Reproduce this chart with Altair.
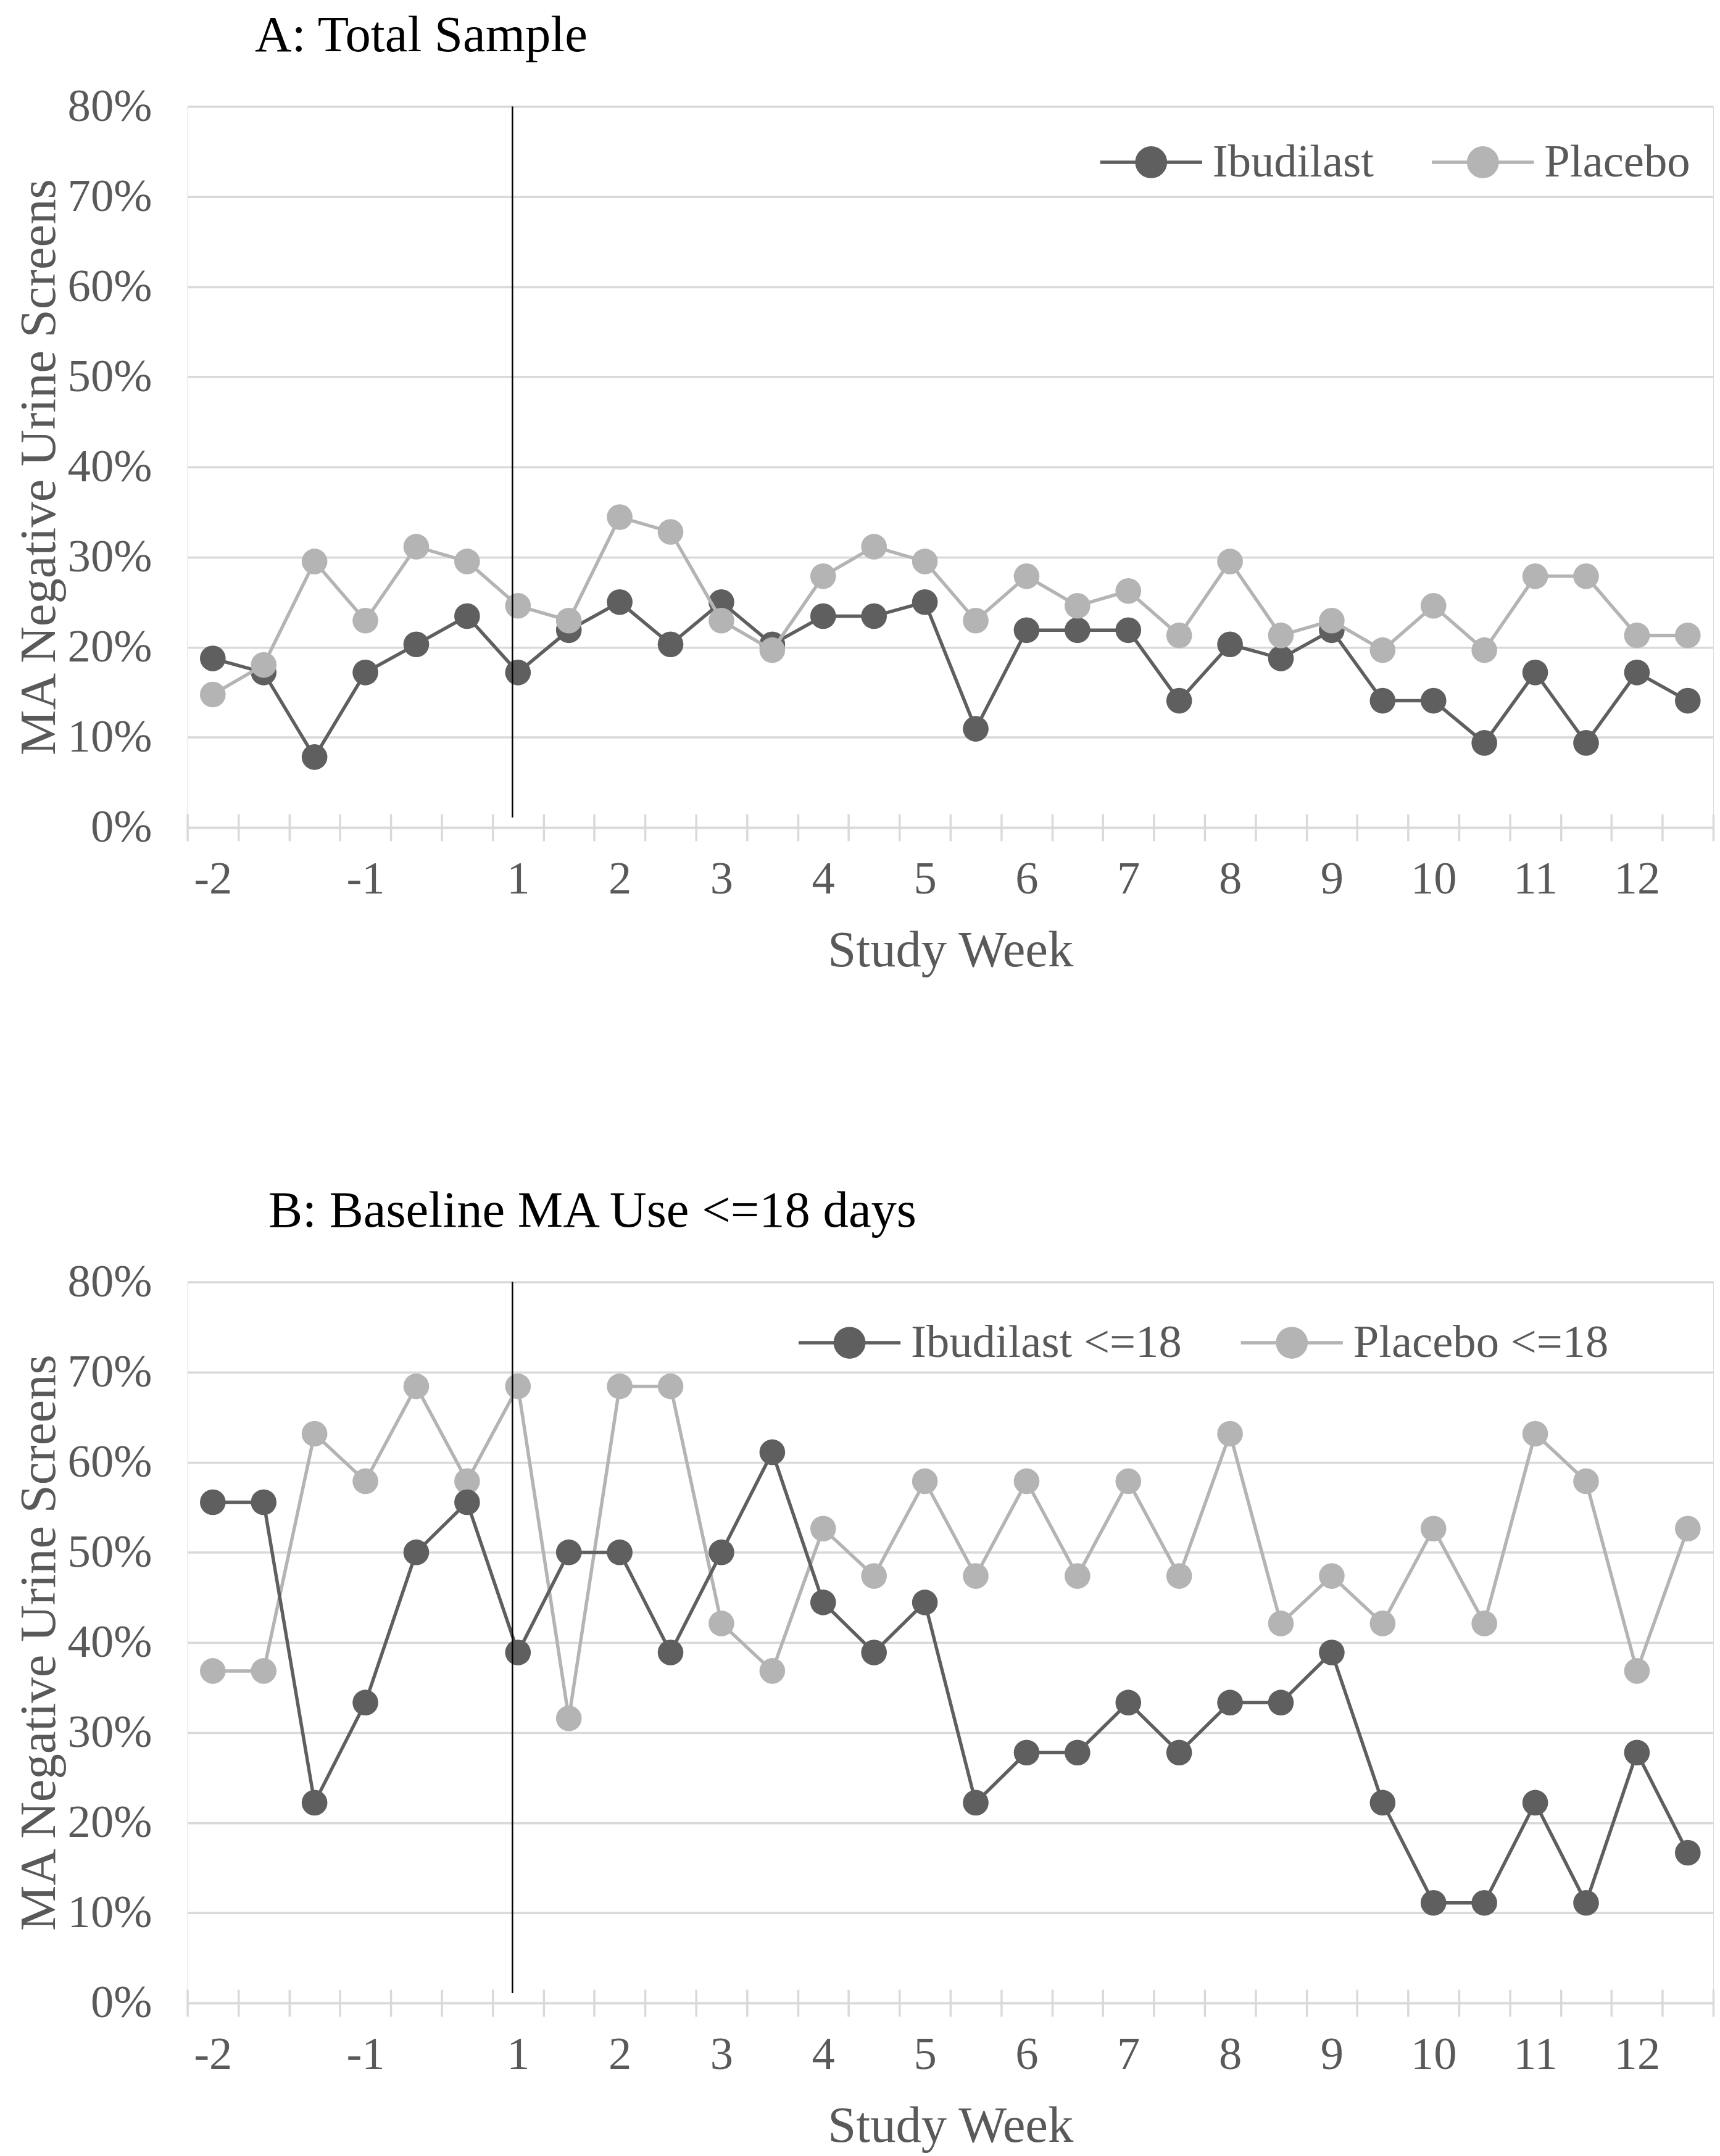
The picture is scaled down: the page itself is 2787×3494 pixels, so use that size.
import altair as alt
import pandas as pd

# ---------------- data ----------------
slots = list(range(30))
week_labels = ["-2", "", "", "-1", "", "", "1", "", "2", "", "3", "", "4", "", "5", "",
               "6", "", "7", "", "8", "", "9", "", "10", "", "11", "", "12", ""]
y_ticks = [0, 0.1, 0.2, 0.3, 0.4, 0.5, 0.6, 0.7, 0.8]
start_slot = [6]  # start of study week 1 (vertical marker)

names_a = ["Ibudilast", "Placebo"]
names_b = ["Ibudilast <=18", "Placebo <=18"]

a_ibudilast = [18.75, 17.19, 7.81, 17.19, 20.31, 23.44, 17.19, 21.88, 25.00, 20.31,
               25.00, 20.31, 23.44, 23.44, 25.00, 10.94, 21.88, 21.88, 21.88, 14.06,
               20.31, 18.75, 21.88, 14.06, 14.06, 9.38, 17.19, 9.38, 17.19, 14.06]
a_placebo = [14.75, 18.03, 29.51, 22.95, 31.15, 29.51, 24.59, 22.95, 34.43, 32.79,
             22.95, 19.67, 27.87, 31.15, 29.51, 22.95, 27.87, 24.59, 26.23, 21.31,
             29.51, 21.31, 22.95, 19.67, 24.59, 19.67, 27.87, 27.87, 21.31, 21.31]
b_ibudilast = [55.56, 55.56, 22.22, 33.33, 50.00, 55.56, 38.89, 50.00, 50.00, 38.89,
               50.00, 61.11, 44.44, 38.89, 44.44, 22.22, 27.78, 27.78, 33.33, 27.78,
               33.33, 33.33, 38.89, 22.22, 11.11, 11.11, 22.22, 11.11, 27.78, 16.67]
b_placebo = [36.84, 36.84, 63.16, 57.89, 68.42, 57.89, 68.42, 31.58, 68.42, 68.42,
             42.11, 36.84, 52.63, 47.37, 57.89, 47.37, 57.89, 47.37, 57.89, 47.37,
             63.16, 42.11, 47.37, 42.11, 52.63, 42.11, 63.16, 57.89, 36.84, 52.63]

# ---------------- style ----------------
FONT = "Liberation Serif"
DARK = "#5f5f5f"
LIGHT = "#b4b4b4"
GRID = "#d9d9d9"
TXT = "#595959"
W, H = 2484, 1174
LEGEND_PATH = "M-1,0H1M0.28,0A0.28,0.28,0,1,1,-0.28,0A0.28,0.28,0,1,1,0.28,0Z"

label_expr = "[" + ",".join('"%s"' % s for s in week_labels) + "][datum.value]"


def panel(ibu, plc, names, title_text, title_dx, legend_x, legend_y, col_pad, dark_on_top):
    df = pd.DataFrame({
        "slot": slots + slots,
        "value": [v / 100 for v in ibu] + [v / 100 for v in plc],
        "series": [names[0]] * 30 + [names[1]] * 30,
    })
    base = alt.Chart(df)
    xscale = alt.Scale(type="band", paddingInner=0, paddingOuter=0)
    yscale = alt.Scale(domain=[0, 0.8])
    color = alt.Color(
        "series:N",
        scale=alt.Scale(domain=names, range=[DARK, LIGHT]),
        legend=alt.Legend(
            orient="none", legendX=legend_x, legendY=legend_y, direction="horizontal",
            title=None, symbolType=LEGEND_PATH, symbolSize=166 * 166,
            symbolStrokeWidth=5.5, symbolOpacity=1, labelFont=FONT, labelFontSize=75,
            labelColor=TXT, labelOffset=14, columnPadding=col_pad, labelLimit=0, padding=0,
        ),
    )
    x_axis = alt.Axis(
        labelExpr=label_expr, labelAngle=0, labelOverlap=False, title="Study Week",
        tickBand="extent", tickSize=22, tickWidth=3.5, tickColor=GRID,
        domainColor=GRID, domainWidth=3.5, grid=False,
        labelFont=FONT, labelFontSize=75, labelColor=TXT, labelPadding=26,
        titleFont=FONT, titleFontSize=83, titleColor=TXT, titleFontWeight="normal",
        titlePadding=38,
    )
    y_axis = alt.Axis(
        values=y_ticks, format=".0%", title="MA Negative Urine Screens",
        ticks=False, domain=False, grid=True, gridColor=GRID, gridWidth=3.5,
        labelFont=FONT, labelFontSize=75, labelColor=TXT, labelPadding=58,
        titleFont=FONT, titleFontSize=83, titleColor=TXT, titleFontWeight="normal",
        titlePadding=4,
    )
    yenc = alt.Y("value:Q", scale=yscale, axis=y_axis)

    def series_layers(name, first):
        sub = base.transform_filter(alt.datum.series == name)
        line = sub.mark_line(strokeWidth=5.5).encode(
            x=alt.X("slot:O", scale=xscale, axis=x_axis if first else None),
            y=yenc,
            color=color,
        )
        pts = sub.mark_circle(size=1750, opacity=1).encode(
            x=alt.X("slot:O", scale=xscale, axis=None),
            y=yenc,
            color=color,
        )
        return [line, pts]

    if dark_on_top:
        order = [names[1], names[0]]
    else:
        order = [names[0], names[1]]
    layers = series_layers(order[0], True) + series_layers(order[1], False)

    rule = alt.Chart(pd.DataFrame({"slot": start_slot})).mark_rule(
        color="black", strokeWidth=2.5, xOffset=-9
    ).encode(
        x=alt.X("slot:O", scale=xscale, axis=alt.Axis(
            orient="top", offset=-H, labels=False, domain=False, grid=False, title=None,
            tickBand="extent", tickSize=22, tickWidth=3.5, tickColor=GRID)),
        y=alt.Y(datum=0.8, scale=yscale, axis=y_axis),
        y2=alt.Y2(datum=0.011),
    )
    layers.append(rule)

    return alt.layer(*layers).resolve_axis(x="independent").properties(
        width=W, height=H,
        title=alt.TitleParams(
            title_text, anchor="start", frame="group", dx=title_dx, font=FONT,
            fontSize=83, fontWeight="normal", color="black", offset=36,
        ),
    )


panel_a = panel(a_ibudilast, a_placebo, names_a, "A: Total Sample", 110, 1483, 5, 83, False)
panel_b = panel(b_ibudilast, b_placebo, names_b, "B: Baseline MA Use <=18 days", 132, 992, 13, 85, True)

chart = alt.vconcat(panel_a, panel_b, spacing=339).resolve_scale(
    color="independent"
).properties(
    padding={"left": 14, "top": 0, "right": 0, "bottom": 0}
).configure_view(stroke=None).configure(font=FONT)

chart.save("out.html", embed_options={"renderer": "svg", "actions": False})
